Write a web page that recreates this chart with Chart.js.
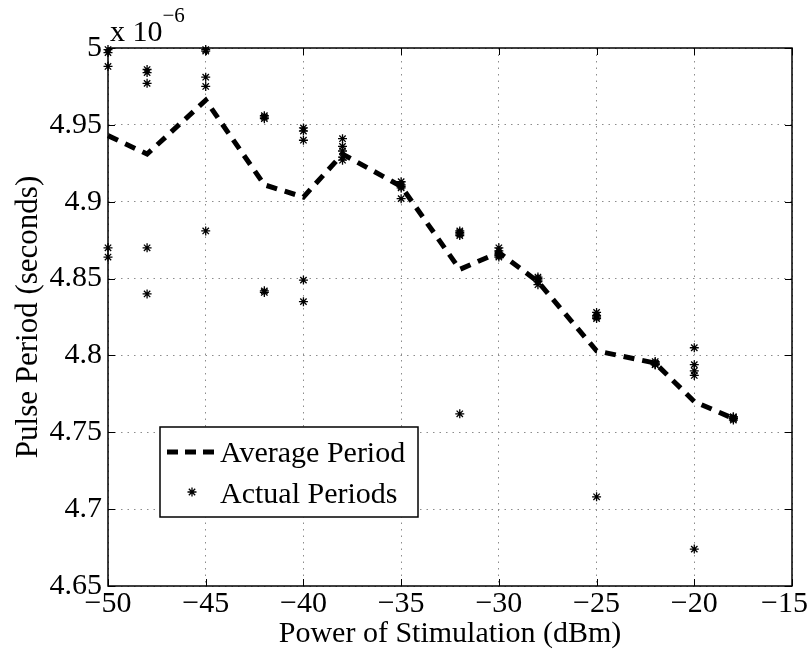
<!DOCTYPE html>
<html>
<head>
<meta charset="utf-8">
<script src="https://cdn.jsdelivr.net/npm/chart.js@4.4.1/dist/chart.umd.min.js"></script>
<style>
  html, body { margin: 0; padding: 0; background: #fff; }
  #wrap { width: 810px; height: 654px; }
</style>
</head>
<body>
<div id="wrap"><canvas id="c" width="810" height="654"></canvas></div>
<script>
// ---- Data (values in units of 10^-6 s) ----
const avgPower  = [-50, -48, -45, -42, -40, -38, -35, -32, -30, -28, -25, -22, -20, -18];
const avgPeriod = [4.943, 4.931, 4.966, 4.911, 4.903, 4.931, 4.910, 4.856, 4.867, 4.848, 4.803, 4.795, 4.770, 4.759];

const actualPower = [
  -50, -50, -50, -50, -50,
  -48, -48, -48, -48, -48,
  -45, -45, -45, -45, -45,
  -42, -42, -42, -42, -42,
  -40, -40, -40, -40, -40,
  -38, -38, -38, -38, -38,
  -35, -35, -35, -35, -35,
  -32, -32, -32, -32, -32,
  -30, -30, -30, -30, -30,
  -28, -28, -28, -28, -28,
  -25, -25, -25, -25, -25,
  -22, -22, -22, -22, -22,
  -20, -20, -20, -20, -20,
  -18, -18, -18, -18, -18
];
const actualPeriod = [
  4.999, 4.997, 4.988, 4.870, 4.864,
  4.986, 4.984, 4.977, 4.870, 4.840,
  4.999, 4.998, 4.981, 4.975, 4.881,
  4.956, 4.955, 4.954, 4.842, 4.841,
  4.948, 4.946, 4.940, 4.849, 4.835,
  4.941, 4.936, 4.933, 4.929, 4.927,
  4.913, 4.911, 4.910, 4.909, 4.902,
  4.881, 4.880, 4.879, 4.878, 4.762,
  4.870, 4.868, 4.866, 4.865, 4.864,
  4.851, 4.850, 4.849, 4.848, 4.846,
  4.828, 4.826, 4.825, 4.824, 4.708,
  4.796, 4.795, 4.795, 4.794, 4.794,
  4.805, 4.794, 4.790, 4.787, 4.674,
  4.760, 4.760, 4.759, 4.759, 4.758
];

const xTicks = [-50, -45, -40, -35, -30, -25, -20, -15];
const yTicks = [4.65, 4.7, 4.75, 4.8, 4.85, 4.9, 4.95, 5];

const seriesNames = ['Average Period', 'Actual Periods'];
const xTitle = 'Power of Stimulation (dBm)';
const yTitle = 'Pulse Period (seconds)';
const exponentBase = 'x 10';
const exponentPower = '\u22126';

// ---- Styles ----
const FONT = '"Liberation Serif", "Times New Roman", serif';
const PLOT = { left: 108, right: 792, top: 48, bottom: 586 };

function fmtX(v) {
  const s = v < 0 ? '\u2212' + Math.abs(v) : String(v);
  return v === -15 ? s + '  ' : s;   // keep last label inside the window
}
function fmtY(v) { return String(Number(v.toFixed(2))); }

const framePlugin = {
  id: 'frame',
  afterDraw(chart) {
    const ctx = chart.ctx;
    const a = chart.chartArea;
    const xs = chart.scales.x, ys = chart.scales.y;
    ctx.save();
    // frame
    ctx.strokeStyle = '#000';
    ctx.lineWidth = 1.5;
    ctx.setLineDash([]);
    ctx.strokeRect(a.left, a.top, a.right - a.left, a.bottom - a.top);
    // inward ticks
    ctx.lineWidth = 1;
    const tl = 7;
    ctx.beginPath();
    xTicks.forEach(v => {
      const p = Math.round(xs.getPixelForValue(v)) + 0.5;
      ctx.moveTo(p, a.bottom); ctx.lineTo(p, a.bottom - tl);
      ctx.moveTo(p, a.top); ctx.lineTo(p, a.top + tl);
    });
    yTicks.forEach(v => {
      const p = Math.round(ys.getPixelForValue(v)) + 0.5;
      ctx.moveTo(a.left, p); ctx.lineTo(a.left + tl, p);
      ctx.moveTo(a.right, p); ctx.lineTo(a.right - tl, p);
    });
    ctx.stroke();

    // exponent label
    ctx.fillStyle = '#000';
    ctx.textBaseline = 'alphabetic';
    ctx.textAlign = 'left';
    ctx.font = '30px ' + FONT;
    ctx.fillText(exponentBase, 110, 41);
    const w = ctx.measureText(exponentBase).width;
    ctx.font = '21px ' + FONT;
    ctx.fillText(exponentPower, 110 + w, 22);

    // legend
    const ds0 = chart.data.datasets[0], ds1 = chart.data.datasets[1];
    const lb = { x: 160, y: 427, w: 258, h: 90 };
    ctx.fillStyle = '#fff';
    ctx.fillRect(lb.x, lb.y, lb.w, lb.h);
    ctx.strokeStyle = '#000';
    ctx.lineWidth = 1.5;
    ctx.strokeRect(lb.x, lb.y, lb.w, lb.h);

    ctx.lineWidth = ds0.borderWidth;
    ctx.setLineDash([11, 7]);
    ctx.beginPath();
    ctx.moveTo(167, 452); ctx.lineTo(216, 452);
    ctx.stroke();
    ctx.setLineDash([]);

    // star marker
    const sx = 192, sy = 492, r = ds1.pointRadius;
    ctx.lineWidth = ds1.pointBorderWidth;
    ctx.beginPath();
    for (let k = 0; k < 4; k++) {
      const ang = k * Math.PI / 4;
      ctx.moveTo(sx - Math.cos(ang) * r, sy - Math.sin(ang) * r);
      ctx.lineTo(sx + Math.cos(ang) * r, sy + Math.sin(ang) * r);
    }
    ctx.stroke();

    ctx.fillStyle = '#000';
    ctx.font = '30px ' + FONT;
    ctx.textBaseline = 'alphabetic';
    ctx.fillText(ds0.label, 220, 462);
    ctx.fillText(ds1.label, 220, 503);
    ctx.restore();
  }
};

new Chart(document.getElementById('c'), {
  type: 'line',
  data: {
    datasets: [
      {
        label: seriesNames[0],
        data: avgPower.map((x, i) => ({ x: x, y: avgPeriod[i] })),
        borderColor: '#000',
        backgroundColor: '#000',
        borderWidth: 5,
        borderDash: [11, 8],
        borderCapStyle: 'butt',
        pointRadius: 0,
        tension: 0,
        fill: false,
        clip: false,
        order: 2
      },
      {
        label: seriesNames[1],
        data: actualPower.map((x, i) => ({ x: x, y: actualPeriod[i] })),
        showLine: false,
        pointStyle: 'star',
        pointRadius: 4.5,
        pointBorderWidth: 1.3,
        borderWidth: 1.3,
        borderColor: '#000',
        backgroundColor: '#000',
        pointBorderColor: '#000',
        clip: false,
        order: 1
      }
    ]
  },
  options: {
    responsive: false,
    animation: false,
    devicePixelRatio: 1,
    layout: { padding: { left: 0, right: 810 - PLOT.right, top: PLOT.top, bottom: 0 } },
    plugins: { legend: { display: false }, tooltip: { enabled: false }, title: { display: false } },
    scales: {
      x: {
        type: 'linear',
        min: -50, max: -15,
        afterBuildTicks(s) { s.ticks = xTicks.map(v => ({ value: v })); },
        afterFit(s) { s.height = 654 - PLOT.bottom; s.paddingLeft = 0; s.paddingRight = 0; },
        ticks: {
          color: '#000',
          font: { family: FONT, size: 30 },
          padding: 0,
          maxRotation: 0,
          autoSkip: false,
          callback: v => fmtX(v)
        },
        grid: { color: '#8c8c8c', lineWidth: 1, drawTicks: false },
        border: { display: false, dash: [1.5, 5] },
        title: {
          display: true, text: xTitle, color: '#000',
          font: { family: FONT, size: 30 },
          padding: { top: 0, bottom: 2 }
        }
      },
      y: {
        type: 'linear',
        min: 4.65, max: 5,
        afterBuildTicks(s) { s.ticks = yTicks.map(v => ({ value: v })); },
        afterFit(s) { s.width = PLOT.left; s.paddingTop = 0; s.paddingBottom = 0; },
        ticks: {
          color: '#000',
          font: { family: FONT, size: 30 },
          padding: 6,
          autoSkip: false,
          callback: v => fmtY(v)
        },
        grid: { color: '#8c8c8c', lineWidth: 1, drawTicks: false },
        border: { display: false, dash: [1.5, 5] },
        title: {
          display: true, text: yTitle, color: '#000',
          font: { family: FONT, size: 31 },
          padding: { top: 10, bottom: 0 }
        }
      }
    }
  },
  plugins: [framePlugin]
});
</script>
</body>
</html>
